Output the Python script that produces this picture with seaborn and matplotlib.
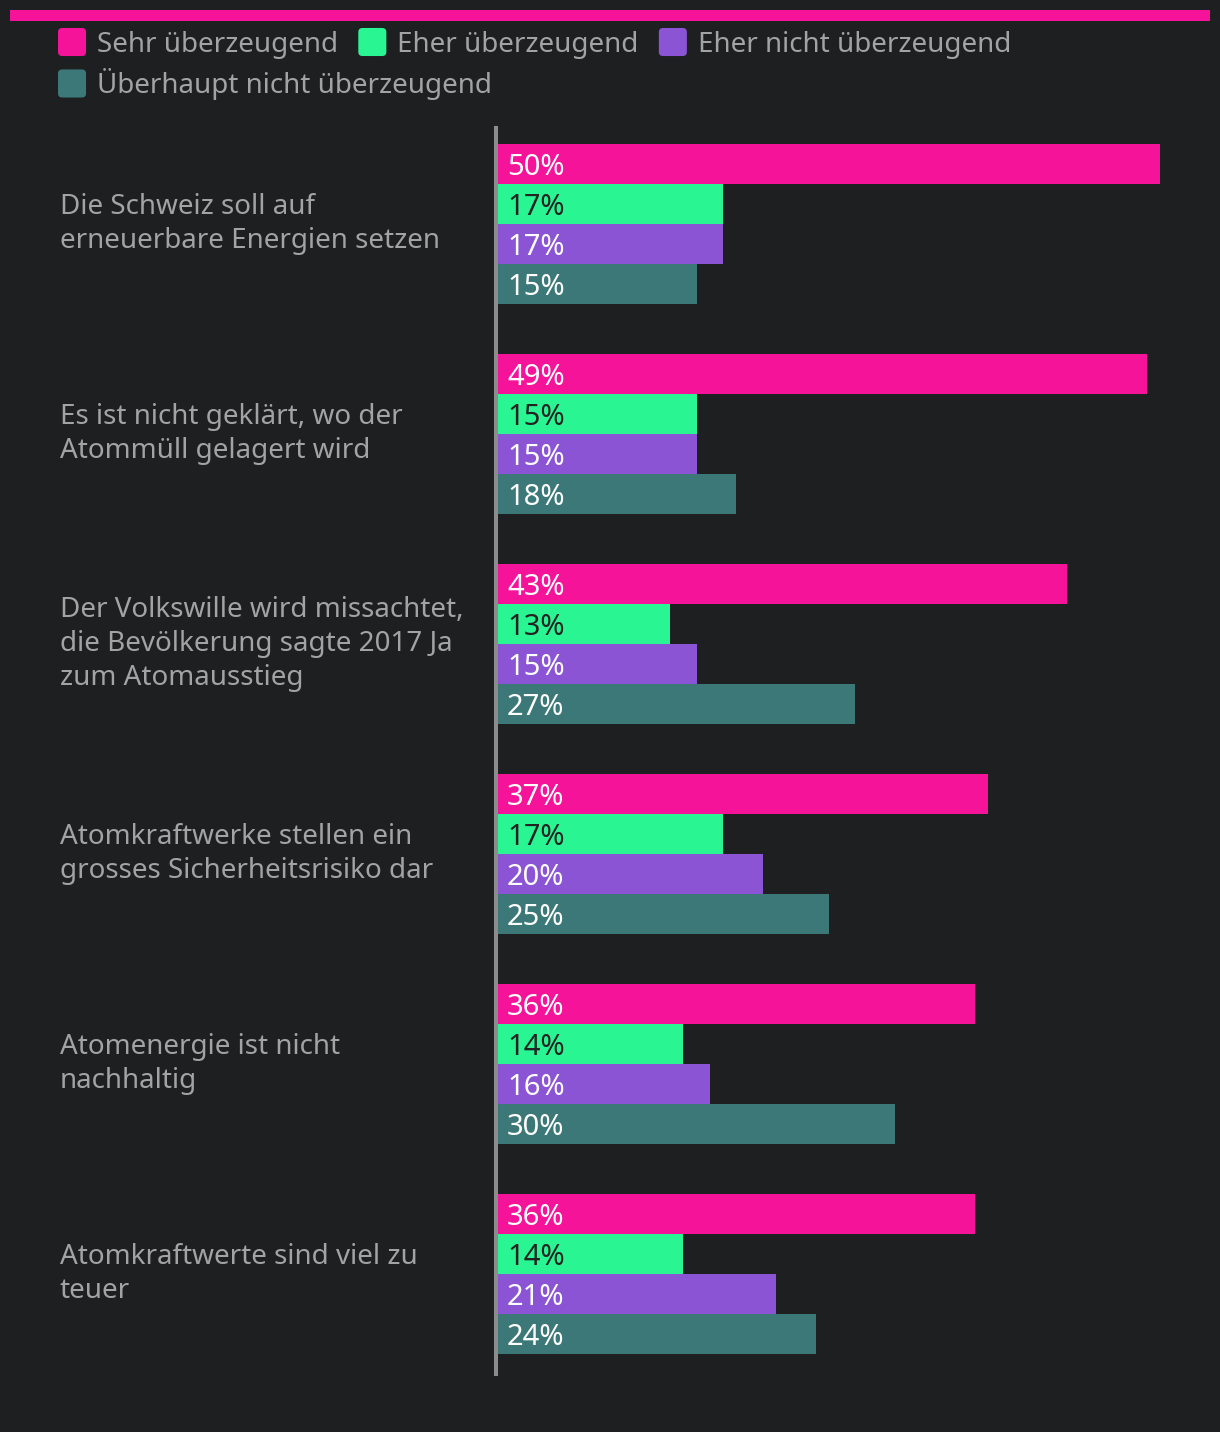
import matplotlib
matplotlib.use("Agg")
import matplotlib.pyplot as plt
import seaborn as sns
import pandas as pd
from matplotlib.patches import FancyBboxPatch, Rectangle, Patch
from matplotlib.legend_handler import HandlerBase

categories = [
    "Die Schweiz soll auf\nerneuerbare Energien setzen",
    "Es ist nicht geklärt, wo der\nAtommüll gelagert wird",
    "Der Volkswille wird missachtet,\ndie Bevölkerung sagte 2017 Ja\nzum Atomausstieg",
    "Atomkraftwerke stellen ein\ngrosses Sicherheitsrisiko dar",
    "Atomenergie ist nicht\nnachhaltig",
    "Atomkraftwerte sind viel zu\nteuer",
]
series = ["Sehr überzeugend", "Eher überzeugend", "Eher nicht überzeugend",
          "Überhaupt nicht überzeugend"]
sehr = [50, 49, 43, 37, 36, 36]
eher = [17, 15, 13, 17, 14, 14]
eher_nicht = [17, 15, 15, 20, 16, 21]
ueberhaupt_nicht = [15, 18, 27, 25, 30, 24]
colors = ["#f5139a", "#29f592", "#8a54d4", "#3d7878"]
text_colors = ["white", "#222222", "white", "white"]

BG = "#1e1f21"
FONT = ["Noto Sans", "DejaVu Sans"]

sns.set_theme(style="dark")
plt.rcParams["font.family"] = FONT

rows = []
for s, vals in zip(series, [sehr, eher, eher_nicht, ueberhaupt_nicht]):
    for c, v in zip(categories, vals):
        rows.append({"cat": c, "series": s, "value": v})
df = pd.DataFrame(rows)

W, H = 1220, 1432
fig = plt.figure(figsize=(W / 100, H / 100), dpi=100, facecolor=BG)
ax_left, ax_right = 498 / W, 1210 / W
ax_top, ax_bot = 1 - 128 / H, 1 - 1374 / H
ax = fig.add_axes([ax_left, ax_bot, ax_right - ax_left, ax_top - ax_bot])
ax.set_facecolor(BG)

sns.barplot(data=df, y="cat", x="value", hue="series", hue_order=series,
            order=categories, palette=colors, orient="h", width=160 / 210,
            saturation=1, legend=False, ax=ax, linewidth=0)

px_per = (1160 - 498) / 50.0
ax.set_xlim(0, (1210 - 498) / px_per)
ax.set_ylim(5.476, -0.457)
ax.grid(False)
ax.set_xticks([])
ax.set_xlabel("")
ax.set_ylabel("")
for sp in ["top", "right", "bottom"]:
    ax.spines[sp].set_visible(False)
ax.spines["left"].set_color("#8c8c8c")
ax.spines["left"].set_linewidth(2.9)
ax.spines["left"].set_position(("outward", 1.45))

ax.tick_params(axis="y", length=0, pad=(498 - 60) * 0.72 - 1.45, labelsize=20,
               labelcolor="#a3a3a3")
for lbl in ax.get_yticklabels():
    lbl.set_ha("left")
    lbl.set_va("center")
    lbl.set_linespacing(1.3)

for i, cont in enumerate(ax.containers):
    for bar, v in zip(cont, cont.datavalues):
        ax.annotate(f"{int(v)}%", xy=(0, bar.get_y() + bar.get_height() / 2),
                    xytext=(6.5, 0), textcoords="offset points",
                    va="center_baseline", ha="left", fontsize=21,
                    color=text_colors[i])

# top accent bar
fig.patches.append(Rectangle((10 / W, 1 - 21 / H), 1200 / W, 11 / H,
                             transform=fig.transFigure, facecolor=colors[0],
                             edgecolor="none"))


class RoundHandler(HandlerBase):
    def create_artists(self, legend, orig, xd, yd, width, height, fontsize, trans):
        s = 20.2
        p = FancyBboxPatch((-xd, -yd + height / 2 - s / 2), s, s,
                           boxstyle="round,pad=0,rounding_size=3",
                           facecolor=orig.get_facecolor(), edgecolor="none",
                           transform=trans)
        return [p]


handles = [Patch(facecolor=c, label=s) for c, s in zip(colors, series)]
common = dict(frameon=False, fontsize=20, labelcolor="#a3a3a3",
              handlelength=1.01, handleheight=1.01, handletextpad=0.4,
              columnspacing=0.72, borderpad=0, borderaxespad=0,
              handler_map={Patch: RoundHandler()}, loc="center left")
leg1 = fig.legend(handles=handles[:3], ncol=3,
                  bbox_to_anchor=(58 / W, 1 - 44 / H), **common)
leg2 = fig.legend(handles=handles[3:], ncol=1,
                  bbox_to_anchor=(58 / W, 1 - 84 / H), **common)

fig.savefig("out.png", dpi=100, facecolor=BG)
